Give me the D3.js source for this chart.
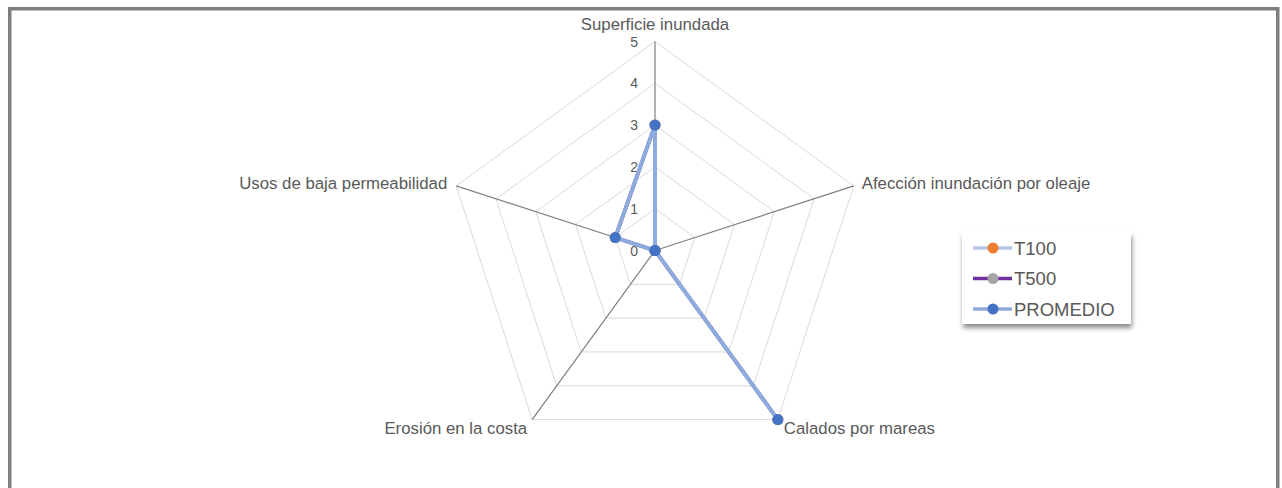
<!DOCTYPE html>
<html>
<head>
<meta charset="utf-8">
<script src="https://cdn.jsdelivr.net/npm/d3@7"></script>
<style>
  body { margin: 0; background: #fff; }
  svg { display: block; font-family: "Liberation Sans", Arial, sans-serif; }
</style>
</head>
<body>
<div id="chart"></div>
<script>
// Data
var axes     = ["Superficie inundada", "Afección inundación por oleaje", "Calados por mareas",
                "Erosión en la costa", "Usos de baja permeabilidad"]
var t100     = [3, 0, 5, 0, 1]
var t500     = [3, 0, 5, 0, 1]
var promedio = [3, 0, 5, 0, 1]
var ticks    = [0, 1, 2, 3, 4, 5]

var series = [
  { name : "T100",     values : t100,     line : "#b4c7e7", dot : "#ed7d31", width : 3.5 },
  { name : "T500",     values : t500,     line : "#7030a0", dot : "#a5a5a5", width : 3.5 },
  { name : "PROMEDIO", values : promedio, line : "#8faadc", dot : "#4472c4", width : 4 }
]

var W = 1282, H = 488,
    cx = 655, cy = 250.5, radius = 209

var svg = d3.select("#chart").append("svg")
            .attr("width", W)
            .attr("height", H)

// Shadow for the legend box
var f = svg.append("defs").append("filter")
           .attr("id", "shadow")
           .attr("x", "-10%").attr("y", "-10%")
           .attr("width", "130%").attr("height", "140%")
f.append("feDropShadow")
 .attr("dx", 1).attr("dy", 4)
 .attr("stdDeviation", 2.5)
 .attr("flood-color", "#000")
 .attr("flood-opacity", 0.45)

// Outer frame
svg.append("rect")
   .attr("x", 9.75).attr("y", 8.75)
   .attr("width", 1268).attr("height", 500)
   .attr("fill", "none")
   .attr("stroke", "#7f7f7f")
   .attr("stroke-width", 3.5)

var rScale = d3.scaleLinear().domain([0, 5]).range([0, radius])
var aScale = d3.scaleLinear().domain([0, axes.length]).range([0, 2 * Math.PI])

var pt = function (i, v) {
  var a = aScale(i) - Math.PI / 2
  return [cx + rScale(v) * Math.cos(a), cy + rScale(v) * Math.sin(a)]
}

var g = svg.append("g")

// Grid pentagons
ticks.slice(1).forEach(function (t) {
  g.append("polygon")
   .attr("points", axes.map(function (d, i) { return pt(i, t).join(",") }).join(" "))
   .attr("fill", "none")
   .attr("stroke", "#d9d9d9")
   .attr("stroke-width", 1)
})

// Spokes
axes.forEach(function (d, i) {
  var p = pt(i, 5)
  g.append("line")
   .attr("x1", cx).attr("y1", cy)
   .attr("x2", p[0]).attr("y2", p[1])
   .attr("stroke", "#7f7f7f")
   .attr("stroke-width", 1.2)
})

// Tick labels along the top spoke
g.selectAll(".tick")
 .data(ticks)
 .enter().append("text")
   .attr("x", cx - 17)
   .attr("y", function (d) { return cy - rScale(d) })
   .attr("dy", "0.36em")
   .attr("text-anchor", "end")
   .attr("font-size", 14)
   .attr("fill", "#595959")
   .text(function (d) { return d })

// Axis labels
var labelPos = [
  { dx : 0,   dy : -18, anchor : "middle" },
  { dx : 8,   dy : -3,  anchor : "start" },
  { dx : 6,   dy : 8,   anchor : "start" },
  { dx : -5,  dy : 8,   anchor : "end" },
  { dx : -9,  dy : -3,  anchor : "end" }
]
axes.forEach(function (d, i) {
  var p = pt(i, 5)
  g.append("text")
   .attr("x", p[0] + labelPos[i].dx)
   .attr("y", p[1] + labelPos[i].dy)
   .attr("dy", "0.36em")
   .attr("text-anchor", labelPos[i].anchor)
   .attr("font-size", 16.8)
   .attr("fill", "#595959")
   .text(d)
})

// Series
var line = d3.line()
             .x(function (d, i) { return pt(i, d)[0] })
             .y(function (d, i) { return pt(i, d)[1] })
             .curve(d3.curveLinearClosed)

series.forEach(function (s) {
  var sg = g.append("g").attr("class", "series")
  sg.append("path")
    .attr("d", line(s.values))
    .attr("fill", "none")
    .attr("stroke", s.line)
    .attr("stroke-width", s.width)
    .attr("stroke-linejoin", "round")
  sg.selectAll("circle")
    .data(s.values)
    .enter().append("circle")
      .attr("cx", function (d, i) { return pt(i, d)[0] })
      .attr("cy", function (d, i) { return pt(i, d)[1] })
      .attr("r", 5.5)
      .attr("fill", s.dot)
})

// Legend
var lg = svg.append("g").attr("transform", "translate(962,232)")
lg.append("rect")
  .attr("width", 169).attr("height", 92)
  .attr("fill", "#fff")
  .attr("filter", "url(#shadow)")

series.forEach(function (s, i) {
  var y = 16 + i * 30.5
  lg.append("line")
    .attr("x1", 11).attr("x2", 50)
    .attr("y1", y).attr("y2", y)
    .attr("stroke", s.line)
    .attr("stroke-width", 3.5)
  lg.append("circle")
    .attr("cx", 31).attr("cy", y)
    .attr("r", 5.5)
    .attr("fill", s.dot)
  lg.append("text")
    .attr("x", 52).attr("y", y)
    .attr("dy", "0.36em")
    .attr("font-size", 18.5)
    .attr("fill", "#595959")
    .text(s.name)
})
</script>
</body>
</html>
